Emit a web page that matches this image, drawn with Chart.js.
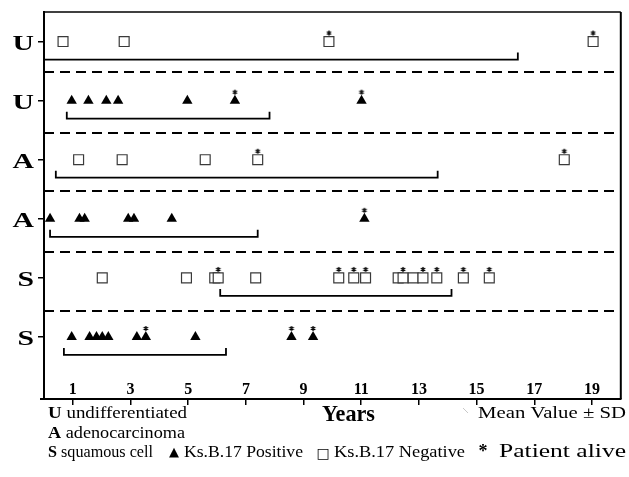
<!DOCTYPE html>
<html>
<head>
<meta charset="utf-8">
<script src="https://cdn.jsdelivr.net/npm/chart.js@4/dist/chart.umd.min.js"></script>
<style>
html,body{margin:0;padding:0;background:#fff;}
#wrap{width:629px;height:477px;}
</style>
</head>
<body>
<div id="wrap"><canvas id="c" width="629" height="477"></canvas></div>
<script>
// ---- data ----
const rowLabels = ['U', 'U', 'A', 'A', 'S', 'S'];
const rowPositions = [6, 5, 4, 3, 2, 1];
const rowKinds = ['neg', 'pos', 'neg', 'pos', 'neg', 'pos'];
const xTickValues = [1, 3, 5, 7, 9, 11, 13, 15, 17, 19];

// survival in years; alive flag 1 = patient alive (*)
const undiffNegYears = [0.66, 2.78, 9.88, 19.04];
const undiffNegAlive = [0, 0, 1, 1];
const undiffPosYears = [0.96, 1.54, 2.16, 2.57, 4.97, 6.62, 11.01];
const undiffPosAlive = [0, 0, 0, 0, 0, 1, 1];
const adenoNegYears = [1.20, 2.71, 5.59, 7.41, 18.04];
const adenoNegAlive = [0, 0, 0, 1, 1];
const adenoPosYears = [0.21, 1.23, 1.41, 2.92, 3.12, 4.43, 11.11];
const adenoPosAlive = [0, 0, 0, 0, 0, 0, 1];
const squamNegYears = [2.02, 4.94, 5.92, 6.04, 7.34, 10.22, 10.74, 11.15, 12.28, 12.45, 12.80, 13.14, 13.62, 14.54, 15.44];
const squamNegAlive = [0, 0, 0, 1, 0, 1, 1, 1, 0, 1, 0, 1, 1, 1, 1];
const squamPosYears = [0.96, 1.58, 1.82, 2.02, 2.23, 3.22, 3.53, 5.25, 8.58, 9.33];
const squamPosAlive = [0, 0, 0, 0, 0, 0, 1, 0, 1, 1];

// mean value +/- SD brackets (years)
const sdLow = [-0.25, 0.79, 0.41, 0.21, 6.11, 0.69];
const sdHigh = [16.43, 7.82, 13.65, 7.41, 14.13, 6.31];

const rowYears = [undiffNegYears, undiffPosYears, adenoNegYears, adenoPosYears, squamNegYears, squamPosYears];
const rowAlive = [undiffNegAlive, undiffPosAlive, adenoNegAlive, adenoPosAlive, squamNegAlive, squamPosAlive];

// ---- asterisk marker image (drawn above the data point) ----
function makeAsterisk() {
  const c = document.createElement('canvas');
  c.width = 12; c.height = 30;
  const g = c.getContext('2d');
  g.strokeStyle = '#000'; g.lineWidth = 1.3;
  const cx = 6, cy = 6.5;
  g.beginPath();
  g.moveTo(cx, cy - 2.6); g.lineTo(cx, cy + 2.6);
  g.moveTo(cx - 2.3, cy - 1.3); g.lineTo(cx + 2.3, cy + 1.3);
  g.moveTo(cx - 2.3, cy + 1.3); g.lineTo(cx + 2.3, cy - 1.3);
  g.stroke();
  return c;
}
const asteriskImg = makeAsterisk();

const datasets = [];
rowYears.forEach((years, i) => {
  const pos = rowKinds[i] === 'pos';
  datasets.push({
    label: rowLabels[i] + (pos ? ' positive' : ' negative'),
    data: years.map(x => ({ x: x, y: rowPositions[i] })),
    pointStyle: pos ? 'triangle' : 'rect',
    pointRadius: pos ? 6 : 7,
    backgroundColor: pos ? '#000' : '#fff',
    borderColor: pos ? '#000' : '#3a3a3a',
    borderWidth: pos ? 0 : 1.2,
    showLine: false
  });
});
rowYears.forEach((years, i) => {
  datasets.push({
    label: rowLabels[i] + ' alive',
    data: years.filter((x, j) => rowAlive[i][j] === 1).map(x => ({ x: x, y: rowPositions[i] })),
    pointStyle: asteriskImg,
    pointRadius: 6,
    showLine: false
  });
});

function drawFit(ctx, parts, x0, x1, baseline) {
  let total = 0;
  parts.forEach(p => { ctx.font = p.font; p.w = ctx.measureText(p.text).width; total += p.w; });
  const s = (x1 - x0) / total;
  ctx.save();
  ctx.translate(x0, baseline);
  ctx.scale(s, 1);
  ctx.textBaseline = 'alphabetic';
  ctx.textAlign = 'left';
  ctx.fillStyle = '#000';
  let cx = 0;
  parts.forEach(p => { ctx.font = p.font; ctx.fillText(p.text, cx, 0); cx += p.w; });
  ctx.restore();
}

const SERIF = "'Liberation Serif', 'Times New Roman', serif";
const REG = '17px ' + SERIF;
const BOLD = 'bold 17px ' + SERIF;

const decorPlugin = {
  id: 'decor',
  beforeDatasetsDraw(chart) {
    const { ctx, chartArea: a, scales: { x, y } } = chart;
    ctx.save();
    // top and right frame
    ctx.strokeStyle = '#000';
    ctx.lineWidth = 1.5;
    ctx.beginPath();
    ctx.moveTo(a.left, a.top); ctx.lineTo(a.right, a.top);
    ctx.stroke();
    ctx.lineWidth = 2;
    ctx.beginPath();
    ctx.moveTo(a.right, a.top); ctx.lineTo(a.right, a.bottom);
    ctx.stroke();
    // extension of x axis to the left
    ctx.beginPath();
    ctx.moveTo(a.left - 4, a.bottom); ctx.lineTo(a.left, a.bottom);
    ctx.stroke();
    // dashed separators between rows
    const seps = [5.49, 4.46, 3.47, 2.43, 1.44];
    ctx.setLineDash([10, 6]);
    ctx.lineWidth = 2;
    seps.forEach(v => {
      const py = Math.round(y.getPixelForValue(v));
      ctx.beginPath();
      ctx.moveTo(a.left, py); ctx.lineTo(a.right, py);
      ctx.stroke();
    });
    ctx.setLineDash([]);
    // x tick labels, drawn inside the plot just above the axis
    ctx.fillStyle = '#000';
    ctx.font = 'bold 16px ' + SERIF;
    ctx.textAlign = 'center';
    ctx.textBaseline = 'alphabetic';
    xTickValues.forEach(v => {
      ctx.fillText(String(v), x.getPixelForValue(v), a.bottom - 5);
    });
    // mean +/- SD brackets
    ctx.beginPath();
    ctx.rect(a.left + 1, a.top, a.right - a.left - 1, a.bottom - a.top);
    ctx.clip();
    ctx.lineWidth = 1.8;
    rowPositions.forEach((r, i) => {
      const py = y.getPixelForValue(r) + 18;
      const xl = x.getPixelForValue(sdLow[i]);
      const xh = x.getPixelForValue(sdHigh[i]);
      ctx.beginPath();
      ctx.moveTo(xl, py - 7); ctx.lineTo(xl, py);
      ctx.lineTo(xh, py); ctx.lineTo(xh, py - 7);
      ctx.stroke();
    });
    ctx.restore();
  },
  afterDraw(chart) {
    const { ctx, scales: { y } } = chart;
    ctx.save();
    // row labels (U / A / S)
    rowPositions.forEach((r, i) => {
      const py = y.getPixelForValue(r);
      ctx.font = 'bold 22px ' + SERIF;
      const w = ctx.measureText(rowLabels[i]).width;
      const s = 1.35;
      ctx.save();
      ctx.translate(34 - w * s, py + 8.5);
      ctx.scale(s, 1);
      ctx.fillStyle = '#000';
      ctx.textBaseline = 'alphabetic';
      ctx.fillText(rowLabels[i], 0, 0);
      ctx.restore();
    });
    // legend block
    drawFit(ctx, [{ text: 'U', font: BOLD }, { text: ' undifferentiated', font: REG }], 48, 187, 418);
    drawFit(ctx, [{ text: 'A', font: BOLD }, { text: ' adenocarcinoma', font: REG }], 48, 185, 438);
    drawFit(ctx, [{ text: 'S', font: 'bold 16px ' + SERIF }, { text: ' squamous cell', font: '16px ' + SERIF }], 48, 153, 457);
    drawFit(ctx, [{ text: 'Years', font: 'bold 23px ' + SERIF }], 322, 375, 421);
    drawFit(ctx, [{ text: 'Mean Value \u00b1 SD', font: REG }], 478, 626, 418);
    drawFit(ctx, [{ text: 'Ks.B.17 Positive', font: REG }], 184, 303, 457);
    drawFit(ctx, [{ text: 'Ks.B.17 Negative', font: REG }], 334, 465, 457);
    drawFit(ctx, [{ text: 'Patient alive', font: '19px ' + SERIF }], 499, 626, 457);
    ctx.fillStyle = '#000';
    ctx.textAlign = 'center';
    ctx.textBaseline = 'alphabetic';
    ctx.font = "13px 'DejaVu Sans'";
    ctx.fillText('\u25B2', 174, 456);
    ctx.font = "14px 'DejaVu Sans'";
    ctx.fillText('\u25A1', 323, 458);
    ctx.font = 'bold 18px ' + SERIF;
    ctx.fillText('*', 483, 457);
    // faint bracket sample mark
    ctx.strokeStyle = '#c8c8c8';
    ctx.lineWidth = 1;
    ctx.beginPath();
    ctx.moveTo(463, 408); ctx.lineTo(468, 413);
    ctx.stroke();
    ctx.restore();
  }
};

new Chart(document.getElementById('c'), {
  type: 'scatter',
  data: { datasets: datasets },
  options: {
    responsive: false,
    animation: false,
    devicePixelRatio: 1,
    events: [],
    layout: { padding: { top: 12, right: 2, left: 0, bottom: 0 } },
    plugins: { legend: { display: false }, tooltip: { enabled: false } },
    scales: {
      x: {
        type: 'linear',
        min: 0,
        max: 20,
        afterBuildTicks: s => { s.ticks = xTickValues.map(v => ({ value: v })); },
        afterFit: s => { s.height = 78; },
        ticks: { display: false },
        grid: { drawOnChartArea: false, drawTicks: true, tickLength: 6, color: '#000', lineWidth: 1.5 },
        border: { display: true, color: '#000', width: 2 }
      },
      y: {
        type: 'linear',
        min: -0.05,
        max: 6.5,
        afterBuildTicks: s => { s.ticks = rowPositions.map(v => ({ value: v })); },
        afterFit: s => { s.width = 44; },
        ticks: { display: false },
        grid: { drawOnChartArea: false, drawTicks: true, tickLength: 6, color: '#000', lineWidth: 1.5 },
        border: { display: true, color: '#000', width: 2 }
      }
    }
  },
  plugins: [decorPlugin]
});
</script>
</body>
</html>
